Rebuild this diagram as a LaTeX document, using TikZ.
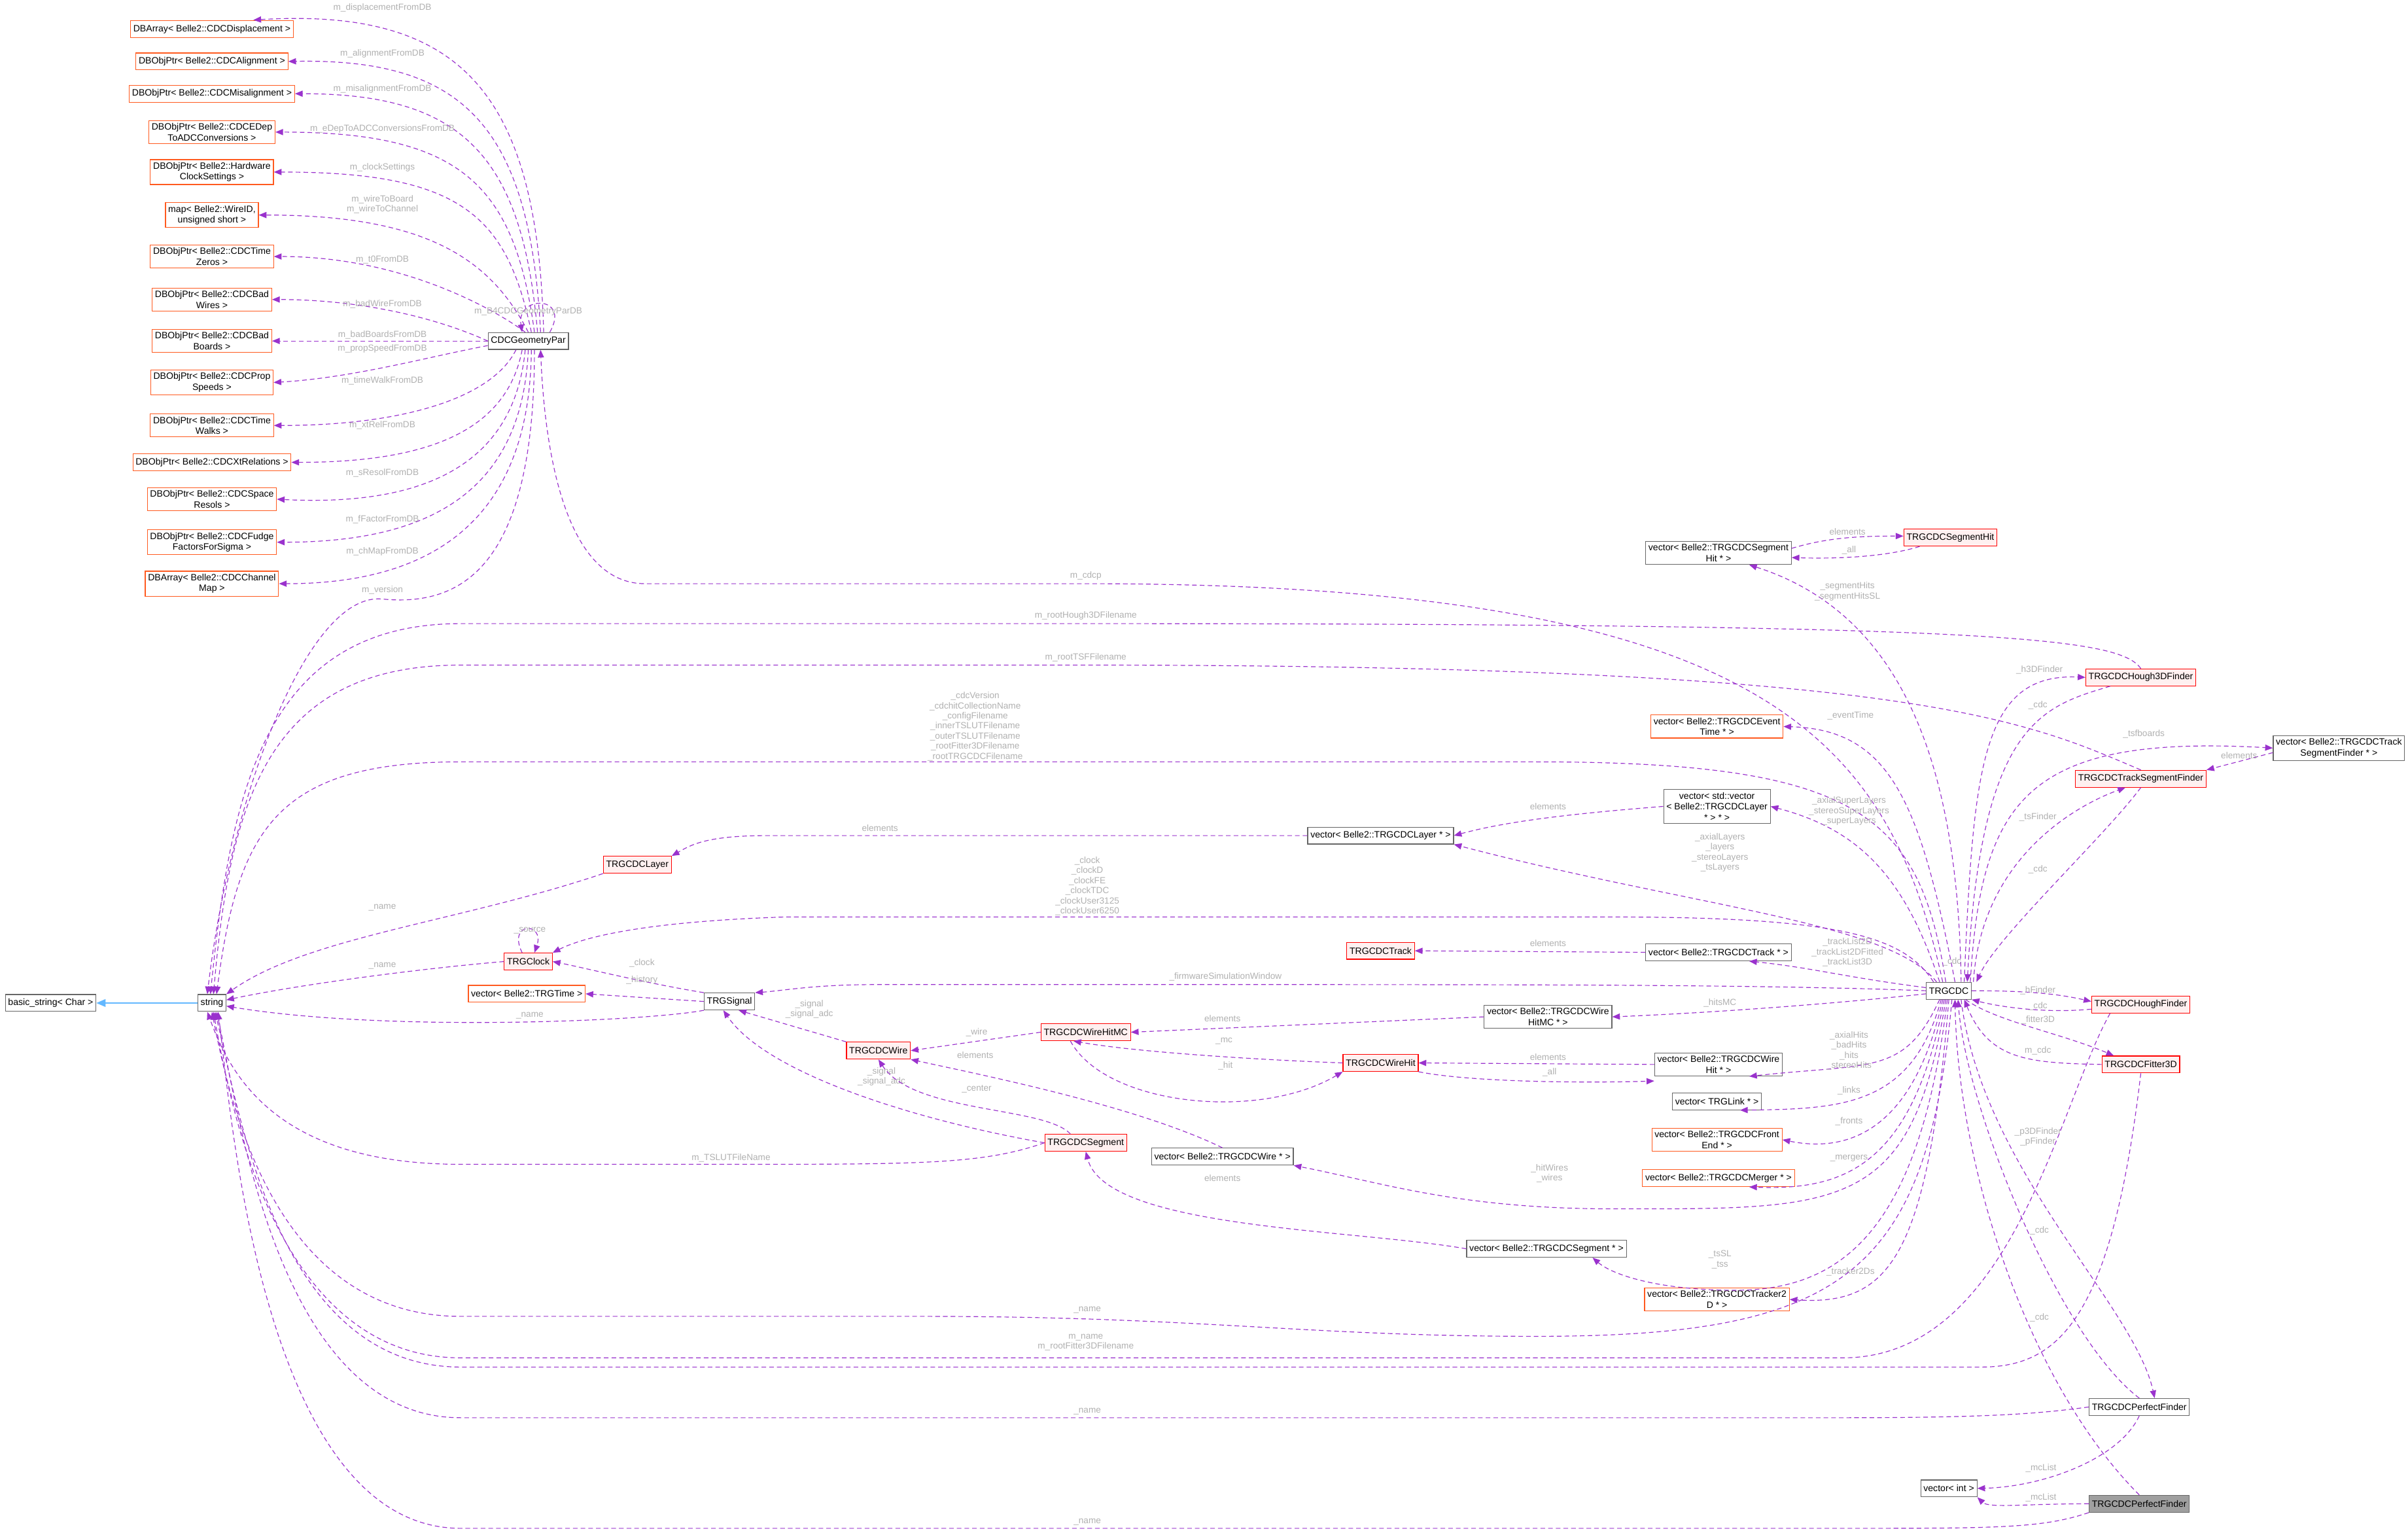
\documentclass[tikz,border=0pt]{standalone}
\usepackage{fontspec}
\setmainfont{Liberation Sans}
\usetikzlibrary{arrows.meta}
\definecolor{ec}{HTML}{9A32CD}
\definecolor{lc}{HTML}{B0B0B0}
\definecolor{rb}{HTML}{FF0000}
\definecolor{rf}{HTML}{FFF0F0}
\definecolor{ob}{HTML}{FF5A1F}
\definecolor{gb}{HTML}{666666}
\definecolor{ib}{HTML}{63B8FF}
\tikzset{
 bx/.style={draw=gb,fill=white,font=\fontsize{6}{7}\selectfont,inner sep=1.8pt,minimum height=11pt,align=center,line width=0.5pt},
 rbx/.style={bx,draw=rb,fill=rf},
 obx/.style={bx,draw=ob},
 gbx/.style={bx,fill=gray!75},
 e/.style={draw=ec,dashed,dash pattern=on 3pt off 2pt,line width=0.5pt,-{Triangle[length=5pt,width=4pt]}},
 lb/.style={font=\fontsize{5.8}{6.6}\selectfont,text=lc,align=center,inner sep=0pt},
 inh/.style={draw=ib,line width=0.7pt,-{Triangle[length=6pt,width=5pt]}}
}
\begin{document}
\begin{tikzpicture}[x=1pt,y=-1pt]
\useasboundingbox (0,0) rectangle (1568,998);
% left column
\node[obx] (b1) at (138,19) {DBArray< Belle2::CDCDisplacement >};
\node[obx] (b2) at (138,40) {DBObjPtr< Belle2::CDCAlignment >};
\node[obx] (b3) at (138,61) {DBObjPtr< Belle2::CDCMisalignment >};
\node[obx] (b4) at (138,86) {DBObjPtr< Belle2::CDCEDep\\ToADCConversions >};
\node[obx] (b5) at (138,112) {DBObjPtr< Belle2::Hardware\\ClockSettings >};
\node[obx] (b6) at (138,140) {map< Belle2::WireID,\\unsigned short >};
\node[obx] (b7) at (138,167) {DBObjPtr< Belle2::CDCTime\\Zeros >};
\node[obx] (b8) at (138,195) {DBObjPtr< Belle2::CDCBad\\Wires >};
\node[obx] (b9) at (138,222) {DBObjPtr< Belle2::CDCBad\\Boards >};
\node[obx] (b10) at (138,249) {DBObjPtr< Belle2::CDCProp\\Speeds >};
\node[obx] (b11) at (138,277) {DBObjPtr< Belle2::CDCTime\\Walks >};
\node[obx] (b12) at (138,301) {DBObjPtr< Belle2::CDCXtRelations >};
\node[obx] (b13) at (138,325) {DBObjPtr< Belle2::CDCSpace\\Resols >};
\node[obx] (b14) at (138,353) {DBObjPtr< Belle2::CDCFudge\\FactorsForSigma >};
\node[obx] (b15) at (138,380) {DBArray< Belle2::CDCChannel\\Map >};
\node[bx] (geo) at (344,222) {CDCGeometryPar};
\node[bx] (bs) at (33,653) {basic\_string< Char >};
\node[bx] (str) at (138,653) {string};
\node[rbx] (layer) at (415,563) {TRGCDCLayer};
\node[rbx] (clk) at (344,626) {TRGClock};
\node[obx] (vtime) at (343,647) {vector< Belle2::TRGTime >};
\node[bx] (sig) at (475,652) {TRGSignal};
\node[rbx] (wire) at (572,684) {TRGCDCWire};
\node[rbx] (hmc) at (707,672) {TRGCDCWireHitMC};
\node[rbx] (wh) at (899,692) {TRGCDCWireHit};
\node[rbx] (seg) at (707,744) {TRGCDCSegment};
\node[bx] (vw) at (796,753) {vector< Belle2::TRGCDCWire * >};
\node[bx] (vseg) at (1007,813) {vector< Belle2::TRGCDCSegment * >};
\node[rbx] (trk) at (899,619) {TRGCDCTrack};
\node[bx] (vl) at (899,544) {vector< Belle2::TRGCDCLayer * >};
\node[bx] (vhmc) at (1008,662) {vector< Belle2::TRGCDCWire\\HitMC * >};
% right part
\node[bx] (vsh) at (1119,360) {vector< Belle2::TRGCDCSegment\\Hit * >};
\node[rbx] (sh) at (1270,350) {TRGCDCSegmentHit};
\node[rbx] (h3d) at (1394,441) {TRGCDCHough3DFinder};
\node[obx] (et) at (1118,473) {vector< Belle2::TRGCDCEvent\\Time * >};
\node[bx] (vtsf) at (1523,487) {vector< Belle2::TRGCDCTrack\\SegmentFinder * >};
\node[rbx] (tsf) at (1394,507) {TRGCDCTrackSegmentFinder};
\node[bx] (vv) at (1118,525) {vector< std::vector\\< Belle2::TRGCDCLayer\\ * > * >};
\node[bx] (vtr) at (1119,620) {vector< Belle2::TRGCDCTrack * >};
\node[bx] (tg) at (1269,645) {TRGCDC};
\node[rbx] (hf) at (1394,654) {TRGCDCHoughFinder};
\node[rbx] (f3d) at (1394,693) {TRGCDCFitter3D};
\node[bx] (vwh) at (1119,693) {vector< Belle2::TRGCDCWire\\Hit * >};
\node[bx] (vlink) at (1118,717) {vector< TRGLink * >};
\node[obx] (vfront) at (1118,742) {vector< Belle2::TRGCDCFront\\End * >};
\node[obx] (vmerg) at (1119,767) {vector< Belle2::TRGCDCMerger * >};
\node[obx] (vt2d) at (1118,846) {vector< Belle2::TRGCDCTracker2\\D * >};
\node[bx] (pf) at (1393,916) {TRGCDCPerfectFinder};
\node[bx] (vint) at (1269,969) {vector< int >};
\node[gbx] (pg) at (1393,979) {TRGCDCPerfectFinder};

% CDCGeometryPar members
\draw[e] ([xshift=10]geo.north) .. controls (350,60) and (300,5) .. (165,13);
\draw[e] ([xshift=8]geo.north) .. controls (345,80) and (300,38) .. (b2.east);
\draw[e] ([xshift=6]geo.north) .. controls (340,100) and (300,61) .. (b3.east);
\draw[e] ([xshift=4]geo.north) .. controls (335,120) and (300,86) .. (b4.east);
\draw[e] ([xshift=2]geo.north) .. controls (330,140) and (300,112) .. (b5.east);
\draw[e] (geo.north) .. controls (320,170) and (280,140) .. (b6.east);
\draw[e] ([xshift=-2]geo.north) .. controls (320,200) and (260,167) .. (b7.east);
\draw[e] (geo.west) .. controls (280,205) and (230,195) .. (b8.east);
\draw[e] (geo.west) -- (b9.east);
\draw[e] ([yshift=-3]geo.west) .. controls (280,232) and (230,246) .. (b10.east);
\draw[e] ([xshift=-8]geo.south) .. controls (320,260) and (260,277) .. (b11.east);
\draw[e] ([xshift=-4]geo.south) .. controls (330,280) and (280,301) .. (b12.east);
\draw[e] ([xshift=-2]geo.south) .. controls (335,300) and (280,330) .. (b13.east);
\draw[e] (geo.south) .. controls (340,320) and (280,353) .. (b14.east);
\draw[e] ([xshift=2]geo.south) .. controls (345,340) and (280,380) .. (b15.east);
\draw[e] ([xshift=4]geo.south) .. controls (348,370) and (300,395) .. (249,390) .. controls (200,385) and (150,520) .. ([xshift=-3]str.north);
\draw[e] ([xshift=14]geo.north) .. controls (372,192) and (336,192) .. ([xshift=-4]geo.north);
\node[lb] (l1) at (249,5) {m\_displacementFromDB};
\node[lb] (l2) at (249,35) {m\_alignmentFromDB};
\node[lb] (l3) at (249,58) {m\_misalignmentFromDB};
\node[lb] (l4) at (249,84) {m\_eDepToADCConversionsFromDB};
\node[lb] (l5) at (249,109) {m\_clockSettings};
\node[lb] (l6) at (249,133) {m\_wireToBoard\\m\_wireToChannel};
\node[lb] (l7) at (249,169) {m\_t0FromDB};
\node[lb] (l8) at (249,198) {m\_badWireFromDB};
\node[lb] (l9) at (344,203) {m\_B4CDCGeometryParDB};
\node[lb] (l10) at (249,218) {m\_badBoardsFromDB};
\node[lb] (l11) at (249,227) {m\_propSpeedFromDB};
\node[lb] (l12) at (249,248) {m\_timeWalkFromDB};
\node[lb] (l13) at (249,277) {m\_xtRelFromDB};
\node[lb] (l14) at (249,308) {m\_sResolFromDB};
\node[lb] (l15) at (249,338) {m\_fFactorFromDB};
\node[lb] (l16) at (249,359) {m\_chMapFromDB};
\node[lb] (l17) at (249,384) {m\_version};

% long edges to string / geo
\draw[e] ([xshift=-4]tg.north) .. controls (1230,480) and (1150,380) .. (707,380) -- (420,380) .. controls (370,380) and (355,300) .. ([xshift=8]geo.south);
\node[lb] (l18) at (707,375) {m\_cdcp};
\draw[e] (h3d.north) .. controls (1380,415) and (1300,406) .. (707,406) -- (300,406) .. controls (170,406) and (150,520) .. ([xshift=-1]str.north);
\node[lb] (l19) at (707,401) {m\_rootHough3DFilename};
\draw[e] (tsf.north) .. controls (1320,470) and (1250,433) .. (707,433) -- (300,433) .. controls (175,433) and (150,520) .. ([xshift=1]str.north);
\node[lb] (l20) at (707,428) {m\_rootTSFFilename};
\draw[e] ([xshift=-2]tg.north) .. controls (1250,530) and (1210,496) .. (1000,496) -- (300,496) .. controls (180,496) and (155,540) .. ([xshift=3]str.north);
\node[lb] (l21) at (635,473) {\_cdcVersion\\\_cdchitCollectionName\\\_configFilename\\\_innerTSLUTFilename\\\_outerTSLUTFilename\\\_rootFitter3DFilename\\\_rootTRGCDCFilename};
\draw[e] (layer.south west) .. controls (300,600) and (200,610) .. (str.north east);
\node[lb] (l22) at (249,591) {\_name};
\draw[e] (vl.west) -- (500,544) .. controls (460,544) and (450,550) .. (layer.north east);
\node[lb] (l23) at (573,539) {elements};
\draw[e] (vv.west) .. controls (1020,530) and (980,535) .. (vl.east);
\node[lb] (l24) at (1008,525) {elements};
\draw[e] ([xshift=-8]tg.north) .. controls (1230,600) and (1100,590) .. (vl.south east);
\node[lb] (l25) at (1120,555) {\_axialLayers\\\_layers\\\_stereoLayers\\\_tsLayers};
\draw[e] ([xshift=-6]tg.north) .. controls (1240,570) and (1210,540) .. (vv.east);
\node[lb] (l26) at (1204,528) {\_axialSuperLayers\\\_stereoSuperLayers\\\_superLayers};
\draw[e] ([xshift=-10]tg.north) .. controls (1240,610) and (1200,597) .. (1050,597) -- (511,597) .. controls (420,600) and (380,610) .. (clk.north east);
\node[lb] (l27) at (708,577) {\_clock\\\_clockD\\\_clockFE\\\_clockTDC\\\_clockUser3125\\\_clockUser6250};
\draw[e] ([xshift=-4]clk.north) .. controls (330,600) and (355,600) .. ([xshift=4]clk.north);
\node[lb] (l28) at (345,606) {\_source};
\draw[e] (clk.west) .. controls (280,630) and (200,640) .. ([yshift=2]str.east);
\node[lb] (l29) at (249,629) {\_name};
\draw[e] (sig.north west) .. controls (420,640) and (380,630) .. (clk.east);
\node[lb] (l30) at (418,627) {\_clock};
\draw[e] (sig.west) -- (vtime.east);
\node[lb] (l31) at (418,638) {\_history};
\draw[e] (sig.south west) .. controls (420,665) and (250,672) .. ([yshift=-2]str.east);
\node[lb] (l32) at (345,661) {\_name};
\draw[inh] (str.west) -- (bs.east);

% middle
\draw[e] (tg.west) .. controls (1150,641) and (1000,641) .. (800,641) -- (570,641) .. controls (530,641) and (510,645) .. (sig.north east);
\node[lb] (l33) at (798,636) {\_firmwareSimulationWindow};
\draw[e] (vtr.west) -- (trk.east);
\node[lb] (l34) at (1008,614) {elements};
\draw[e] ([yshift=2]tg.west) .. controls (1200,636) and (1180,630) .. ([xshift=20]vtr.south);
\node[lb] (l35) at (1203,620) {\_trackList2D\\\_trackList2DFitted\\\_trackList3D};
\draw[e] ([yshift=-2]tg.west) .. controls (1180,655) and (1100,660) .. (vhmc.east);
\node[lb] (l36) at (1120,653) {\_hitsMC};
\draw[e] (vhmc.west) -- (hmc.east);
\node[lb] (l37) at (796,663) {elements};
\draw[e] (hmc.west) -- (wire.east);
\node[lb] (l38) at (636,672) {\_wire};
\draw[e] (wire.north west) -- ([xshift=6]sig.south);
\node[lb] (l39) at (527,657) {\_signal\\\_signal\_adc};
\draw[e] (seg.west) .. controls (600,730) and (500,700) .. ([xshift=-4]sig.south);
\node[lb] (l40) at (574,701) {\_signal\\\_signal\_adc};
\draw[e] ([xshift=-10]seg.north) .. controls (680,720) and (595,725) .. (wire.south);
\node[lb] (l41) at (636,709) {\_center};
\draw[e] (vw.north) .. controls (740,720) and (640,700) .. (wire.south east);
\node[lb] (l42) at (635,687) {elements};
\draw[e] (wh.west) .. controls (820,690) and (740,685) .. ([xshift=-8]hmc.south);
\node[lb] (l43) at (797,678) {\_mc};
\draw[e] ([xshift=-10]hmc.south) .. controls (720,720) and (820,730) .. (wh.south west);
\node[lb] (l44) at (798,694) {\_hit};
\draw[e] (vwh.west) -- (wh.east);
\node[lb] (l45) at (1008,688) {elements};
\draw[e] (wh.south east) .. controls (960,705) and (1040,705) .. ([yshift=-3]vwh.south west);
\node[lb] (l46) at (1009,698) {\_all};
\draw[e] (vseg.west) .. controls (880,800) and (720,800) .. (seg.south);
\node[lb] (l47) at (796,767) {elements};
\draw[e] (seg.west) .. controls (640,758) and (600,758) .. (476,758) -- (300,758) .. controls (180,758) and (150,700) .. ([xshift=-3]str.south);
\node[lb] (l48) at (476,754) {m\_TSLUTFileName};

% TRGCDC right-side members
\draw[e] ([xshift=8]tg.north) .. controls (1275,500) and (1240,400) .. ([xshift=20]vsh.south);
\node[lb] (l49) at (1203,385) {\_segmentHits\\\_segmentHitsSL};
\draw[e] ([yshift=3]vsh.east) .. controls (1190,350) and (1210,349) .. ([yshift=1]sh.west);
\node[lb] (l50) at (1203,346) {elements};
\draw[e] ([xshift=-20]sh.south) .. controls (1230,362) and (1200,364) .. ([yshift=-3]vsh.east);
\node[lb] (l51) at (1204,358) {\_all};
\draw[e] ([xshift=4]tg.north) .. controls (1250,520) and (1230,475) .. (et.east);
\node[lb] (l52) at (1205,466) {\_eventTime};
\draw[e] ([xshift=10]tg.north) .. controls (1285,500) and (1290,438) .. (h3d.west);
\node[lb] (l53) at (1328,436) {\_h3DFinder};
\draw[e] ([xshift=-20]h3d.south) .. controls (1330,460) and (1290,470) .. ([xshift=12]tg.north);
\node[lb] (l54) at (1327,459) {\_cdc};
\draw[e] ([xshift=14]tg.north) .. controls (1290,520) and (1320,478) .. (vtsf.west);
\node[lb] (l55) at (1396,478) {\_tsfboards};
\draw[e] ([yshift=-3]vtsf.west) -- (tsf.north east);
\node[lb] (l56) at (1458,492) {elements};
\draw[e] ([xshift=16]tg.north) .. controls (1290,560) and (1350,525) .. ([xshift=-10]tsf.south);
\node[lb] (l57) at (1327,532) {\_tsFinder};
\draw[e] (tsf.south) .. controls (1370,545) and (1300,610) .. ([xshift=18]tg.north);
\node[lb] (l58) at (1327,566) {\_cdc};
\node[lb] (l59) at (1271,626) {\_cdc};
\draw[e] (tg.east) .. controls (1320,645) and (1340,647) .. ([yshift=2]hf.west);
\node[lb] (l60) at (1327,645) {\_hFinder};
\draw[e] ([yshift=-3]hf.west) .. controls (1330,660) and (1300,655) .. (tg.south east);
\node[lb] (l61) at (1327,655) {\_cdc};
\draw[e] ([xshift=-4]tg.south east) .. controls (1300,665) and (1340,672) .. ([xshift=8]f3d.north west);
\node[lb] (l62) at (1327,664) {\_fitter3D};
\draw[e] (f3d.west) .. controls (1320,692) and (1295,690) .. ([xshift=10]tg.south);
\node[lb] (l63) at (1327,684) {m\_cdc};
\draw[e] ([xshift=8]tg.south) .. controls (1290,760) and (1390,850) .. ([xshift=10]pf.north);
\node[lb] (l64) at (1327,740) {\_p3DFinder\\\_pFinder};
\draw[e] (pf.north) .. controls (1340,870) and (1280,720) .. ([xshift=6]tg.south);
\node[lb] (l65) at (1328,801) {\_cdc};
\draw[e] (pg.north) .. controls (1320,900) and (1275,760) .. ([xshift=4]tg.south);
\node[lb] (l66) at (1328,858) {\_cdc};
\draw[e] ([xshift=-6]tg.south) .. controls (1240,700) and (1220,692) .. ([xshift=20]vwh.south);
\node[lb] (l67) at (1204,684) {\_axialHits\\\_badHits\\\_hits\\\_stereoHits};
\draw[e] ([xshift=-5]tg.south) .. controls (1245,720) and (1200,722) .. ([xshift=15]vlink.south);
\node[lb] (l68) at (1204,710) {\_links};
\draw[e] ([xshift=-4]tg.south) .. controls (1245,740) and (1200,750) .. (vfront.east);
\node[lb] (l69) at (1204,730) {\_fronts};
\draw[e] ([xshift=-3]tg.south) .. controls (1245,760) and (1200,775) .. ([xshift=20]vmerg.south);
\node[lb] (l70) at (1204,754) {\_mergers};
\draw[e] ([xshift=-2]tg.south) .. controls (1245,790) and (1200,787) .. (1050,787) .. controls (950,787) and (900,770) .. (vw.south east);
\node[lb] (l71) at (1009,764) {\_hitWires\\\_wires};
\draw[e] ([xshift=-1]tg.south) .. controls (1250,800) and (1200,840) .. (1130,840) .. controls (1080,840) and (1050,830) .. ([xshift=30]vseg.south);
\node[lb] (l72) at (1120,820) {\_tsSL\\\_tss};
\draw[e] (tg.south) .. controls (1255,820) and (1230,850) .. (vt2d.east);
\node[lb] (l73) at (1205,828) {\_tracker2Ds};
\draw[e] ([xshift=2]tg.south) .. controls (1255,830) and (1200,870) .. (1000,870) .. controls (850,870) and (780,857) .. (600,857) -- (300,857) .. controls (180,857) and (150,720) .. (str.south);
\node[lb] (l74) at (708,853) {\_name};
\draw[e] ([xshift=-20]hf.south) .. controls (1340,720) and (1310,884) .. (1200,884) -- (300,884) .. controls (180,884) and (150,720) .. ([xshift=1]str.south);
\draw[e] (f3d.south) .. controls (1375,860) and (1340,890) .. (1290,890) -- (300,890) .. controls (180,890) and (155,720) .. ([xshift=2]str.south);
\node[lb] (l75) at (707,874) {m\_name\\m\_rootFitter3DFilename};
\draw[e] (pf.west) .. controls (1330,920) and (1300,923) .. (1200,923) -- (300,923) .. controls (180,923) and (155,720) .. ([xshift=3]str.south);
\node[lb] (l76) at (708,919) {\_name};
\draw[e] (pg.south west) .. controls (1330,995) and (1300,995) .. (1200,995) -- (300,995) .. controls (170,995) and (150,720) .. ([xshift=4]str.south);
\node[lb] (l77) at (708,991) {\_name};
\draw[e] (pf.south) .. controls (1380,950) and (1330,968) .. (vint.east);
\node[lb] (l78) at (1329,956) {\_mcList};
\draw[e] (pg.west) .. controls (1320,979) and (1295,982) .. (vint.south east);
\node[lb] (l79) at (1329,975) {\_mcList};
\end{tikzpicture}
\end{document}
